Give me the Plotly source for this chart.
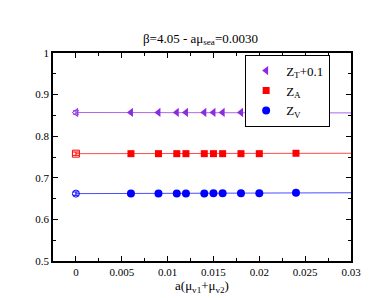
import plotly.graph_objects as go

mu = [0.006, 0.009, 0.011, 0.012, 0.014, 0.015, 0.016, 0.018, 0.020, 0.024]
zt = [0.857, 0.857, 0.857, 0.857, 0.857, 0.857, 0.857, 0.857, 0.857, 0.856]
za = [0.758, 0.758, 0.758, 0.758, 0.758, 0.758, 0.758, 0.758, 0.758, 0.759]
zv = [0.662, 0.662, 0.662, 0.662, 0.662, 0.663, 0.663, 0.663, 0.663, 0.664]

chiral_x = [0.0]
zt0 = [0.857]
za0 = [0.758]
zv0 = [0.662]
err0 = [0.004]

fit_x = [0.0, 0.03]
fit_zt = [0.857, 0.856]
fit_za = [0.758, 0.759]
fit_zv = [0.662, 0.664]

legend_labels = ["Z<sub>T</sub>+0.1", "Z<sub>A</sub>", "Z<sub>V</sub>"]

purple = "#8a2be2"
red = "#ff0000"
blue = "#0000ff"
colors = [purple, red, blue]
symbols = ["triangle-left", "square", "circle"]

fig = go.Figure()

for fy, col in zip([fit_zt, fit_za, fit_zv], colors):
    fig.add_trace(go.Scatter(x=fit_x, y=fy, mode="lines",
                             line=dict(color=col, width=1), opacity=0.7,
                             showlegend=False, hoverinfo="skip"))

for y0, col, sym in zip([zt0, za0, zv0], colors, symbols):
    fig.add_trace(go.Scatter(x=chiral_x, y=y0, mode="markers",
                             marker=dict(symbol=sym + "-open", color=col, size=7, line=dict(width=1)),
                             error_y=dict(type="data", array=err0, color=col, thickness=1, width=3),
                             showlegend=False))

for ys, col, sym, sz, lab in zip([zt, za, zv], colors, symbols, [8, 7, 8], legend_labels):
    fig.add_trace(go.Scatter(x=mu, y=ys, mode="markers", name=lab,
                             marker=dict(symbol=sym, color=col, size=sz)))

font = "Liberation Serif"

axis_common = dict(showline=True, linecolor="black", linewidth=1.5, mirror="allticks",
                   ticks="inside", ticklen=5, tickcolor="black", showgrid=False,
                   zeroline=False, automargin=False,
                   tickfont=dict(family=font, size=11, color="black"))

fig.update_layout(
    width=385, height=298,
    margin=dict(l=45, r=42, t=45, b=45),
    paper_bgcolor="white", plot_bgcolor="white",
    showlegend=True,
    title=dict(text="β=4.05 - aμ<sub>sea</sub>=0.0030", x=0.5, xanchor="center",
               y=1 - 30 / 298, yanchor="middle",
               font=dict(family=font, size=13, color="black")),
    xaxis=dict(range=[-0.0025, 0.03], dtick=0.005, tick0=0,
               title=dict(text="a(μ<sub>v1</sub>+μ<sub>v2</sub>)", standoff=4,
                          font=dict(family=font, size=13, color="black")),
               minor=dict(dtick=0.0025, ticks="inside", ticklen=3, tickcolor="black"),
               **axis_common),
    yaxis=dict(range=[0.5, 1.0], dtick=0.1, tick0=0.5,
               minor=dict(dtick=0.05, ticks="inside", ticklen=3, tickcolor="black"),
               **axis_common),
    legend=dict(x=0.93, xanchor="right", y=0.992, yanchor="top",
                bgcolor="white", bordercolor="black", borderwidth=1,
                font=dict(family=font, size=13, color="black"),
                itemwidth=30, tracegroupgap=0),
)

fig.write_html("out.html")
